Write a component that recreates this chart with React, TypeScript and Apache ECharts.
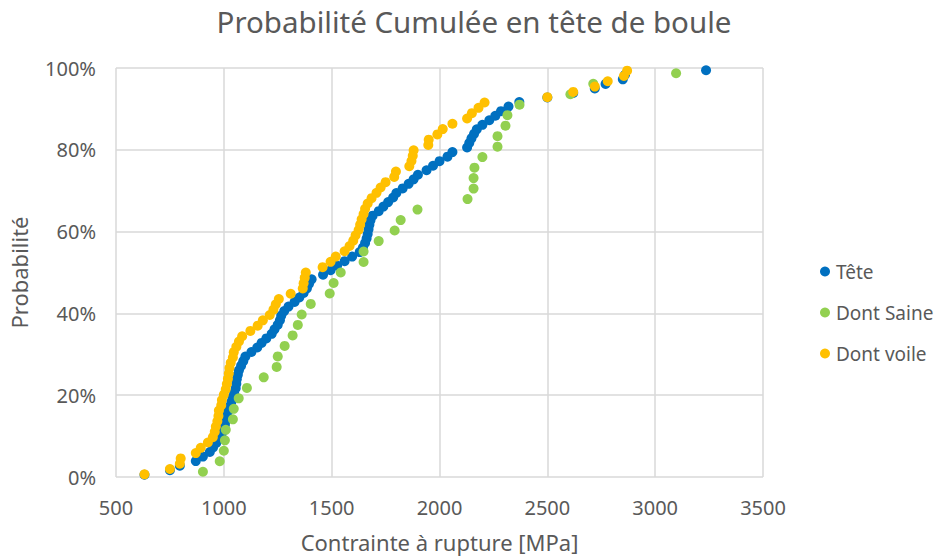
import React, { useEffect, useRef } from "react";
import * as echarts from "echarts";

const teteX = [632, 750, 796, 870, 903, 935, 950, 965, 983, 990, 996, 1005, 1010, 1014, 1020, 1028, 1035, 1040, 1048, 1055, 1058, 1060, 1065, 1070, 1080, 1090, 1100, 1128, 1155, 1175, 1197, 1222, 1235, 1250, 1260, 1266, 1280, 1300, 1328, 1350, 1370, 1385, 1395, 1407, 1460, 1495, 1525, 1560, 1595, 1630, 1645, 1655, 1662, 1667, 1671, 1675, 1680, 1690, 1718, 1740, 1762, 1785, 1800, 1829, 1857, 1880, 1900, 1940, 1970, 2000, 2037, 2060, 2128, 2138, 2148, 2160, 2173, 2199, 2231, 2259, 2285, 2320, 2370, 2500, 2620, 2720, 2770, 2850, 2860, 3236];
const teteP = [0.56, 1.67, 2.78, 3.89, 5.0, 6.11, 7.22, 8.33, 9.44, 10.56, 11.67, 12.78, 13.89, 15.0, 16.11, 17.22, 18.33, 19.44, 20.56, 21.67, 22.78, 23.89, 25.0, 26.11, 27.22, 28.33, 29.44, 30.56, 31.67, 32.78, 33.89, 35.0, 36.11, 37.22, 38.33, 39.44, 40.56, 41.67, 42.78, 43.89, 45.0, 46.11, 47.22, 48.33, 49.44, 50.56, 51.67, 52.78, 53.89, 55.0, 56.11, 57.22, 58.33, 59.44, 60.56, 61.67, 62.78, 63.89, 65.0, 66.11, 67.22, 68.33, 69.44, 70.56, 71.67, 72.78, 73.89, 75.0, 76.11, 77.22, 78.33, 79.44, 80.56, 81.67, 82.78, 83.89, 85.0, 86.11, 87.22, 88.33, 89.44, 90.56, 91.67, 92.78, 93.89, 95.0, 96.11, 97.22, 98.33, 99.44];

const saineX = [903, 981, 1000, 1005, 1009, 1042, 1046, 1069, 1107, 1185, 1245, 1250, 1282, 1319, 1343, 1361, 1403, 1491, 1509, 1542, 1648, 1648, 1718, 1792, 1820, 1898, 2130, 2158, 2158, 2162, 2199, 2269, 2269, 2306, 2315, 2371, 2607, 2713, 3097];
const saineP = [1.28, 3.85, 6.41, 8.97, 11.54, 14.1, 16.67, 19.23, 21.79, 24.36, 26.92, 29.49, 32.05, 34.62, 37.18, 39.74, 42.31, 44.87, 47.44, 50.0, 52.56, 55.13, 57.69, 60.26, 62.82, 65.38, 67.95, 70.51, 73.08, 75.64, 78.21, 80.77, 83.33, 85.9, 88.46, 91.03, 93.59, 96.15, 98.72];

const voileX = [632, 750, 796, 800, 870, 893, 926, 949, 958, 963, 970, 975, 977, 988, 991, 1000, 1009, 1014, 1019, 1023, 1026, 1032, 1042, 1046, 1058, 1070, 1085, 1123, 1157, 1181, 1213, 1230, 1241, 1255, 1310, 1366, 1370, 1375, 1380, 1458, 1495, 1519, 1560, 1583, 1600, 1611, 1625, 1632, 1639, 1648, 1655, 1667, 1685, 1708, 1727, 1750, 1790, 1798, 1860, 1870, 1876, 1880, 1948, 1950, 1990, 2015, 2060, 2128, 2150, 2181, 2209, 2500, 2620, 2720, 2780, 2855, 2870];
const voileP = [0.65, 1.95, 3.25, 4.55, 5.84, 7.14, 8.44, 9.74, 11.04, 12.34, 13.64, 14.94, 16.23, 17.53, 18.83, 20.13, 21.43, 22.73, 24.03, 25.32, 26.62, 27.92, 29.22, 30.52, 31.82, 33.12, 34.42, 35.71, 37.01, 38.31, 39.61, 40.91, 42.21, 43.51, 44.81, 46.1, 47.4, 48.7, 50.0, 51.3, 52.6, 53.9, 55.19, 56.49, 57.79, 59.09, 60.39, 61.69, 62.99, 64.29, 65.58, 66.88, 68.18, 69.48, 70.78, 72.08, 73.38, 74.68, 75.97, 77.27, 78.57, 79.87, 81.17, 82.47, 83.77, 85.06, 86.36, 87.66, 88.96, 90.26, 91.56, 92.86, 94.16, 95.45, 96.75, 98.05, 99.35];

const seriesNames = ["Tête", "Dont Saine", "Dont voile"];
const seriesColors = ["#0070C0", "#92D050", "#FFC000"];

const zip = (xs: number[], ys: number[]) => xs.map((x, i) => [x, ys[i]]);

export default function App() {
  const ref = useRef<HTMLDivElement>(null);
  useEffect(() => {
    if (!ref.current) return;
    const chart = echarts.init(ref.current, undefined, { renderer: "svg" });
    const font = "Noto Sans";
    const datasets = [zip(teteX, teteP), zip(saineX, saineP), zip(voileX, voileP)];
    chart.setOption({
      animation: false,
      backgroundColor: "#ffffff",
      textStyle: { fontFamily: font },
      title: {
        text: "Probabilité Cumulée en tête de boule",
        left: 469,
        top: 1,
        textAlign: "center",
        textStyle: { fontFamily: font, fontSize: 29.5, fontWeight: "normal", color: "#595959" },
      },
      legend: {
        orient: "vertical",
        left: 815,
        top: 257,
        itemWidth: 10,
        itemHeight: 10,
        itemGap: 22,
        icon: "circle",
        textStyle: { fontFamily: font, fontSize: 19, color: "#595959", padding: [0, 0, 0, 1] },
        data: seriesNames,
      },
      grid: { left: 115, right: 178, top: 68, bottom: 81, containLabel: false },
      xAxis: {
        type: "value",
        min: 500,
        max: 3500,
        interval: 500,
        name: "Contrainte à rupture [MPa]",
        nameLocation: "middle",
        nameGap: 54,
        nameTextStyle: { fontFamily: font, fontSize: 22, color: "#595959" },
        axisLine: { show: false },
        axisTick: { show: false },
        axisLabel: { fontFamily: font, fontSize: 20, color: "#595959", margin: 20, formatter: (v: number) => String(v) },
        splitLine: { show: true, lineStyle: { color: "#d9d9d9", width: 1.5 } },
      },
      yAxis: {
        type: "value",
        min: 0,
        max: 100,
        interval: 20,
        name: "Probabilité",
        nameLocation: "middle",
        nameGap: 86,
        nameRotate: 90,
        nameTextStyle: { fontFamily: font, fontSize: 22, color: "#595959" },
        axisLine: { show: false },
        axisTick: { show: false },
        axisLabel: { fontFamily: font, fontSize: 20, color: "#595959", margin: 20, formatter: "{value}%" },
        splitLine: { show: true, lineStyle: { color: "#d9d9d9", width: 1.5 } },
      },
      series: datasets.map((d, i) => ({
        name: seriesNames[i],
        type: "scatter",
        data: d,
        symbol: "circle",
        symbolSize: 10,
        itemStyle: { color: seriesColors[i], opacity: 1 },
        z: 2 + i,
      })),
    });
    return () => chart.dispose();
  }, []);
  return <div ref={ref} style={{ position: "fixed", left: 0, top: 0, width: 941, height: 558 }} />;
}
